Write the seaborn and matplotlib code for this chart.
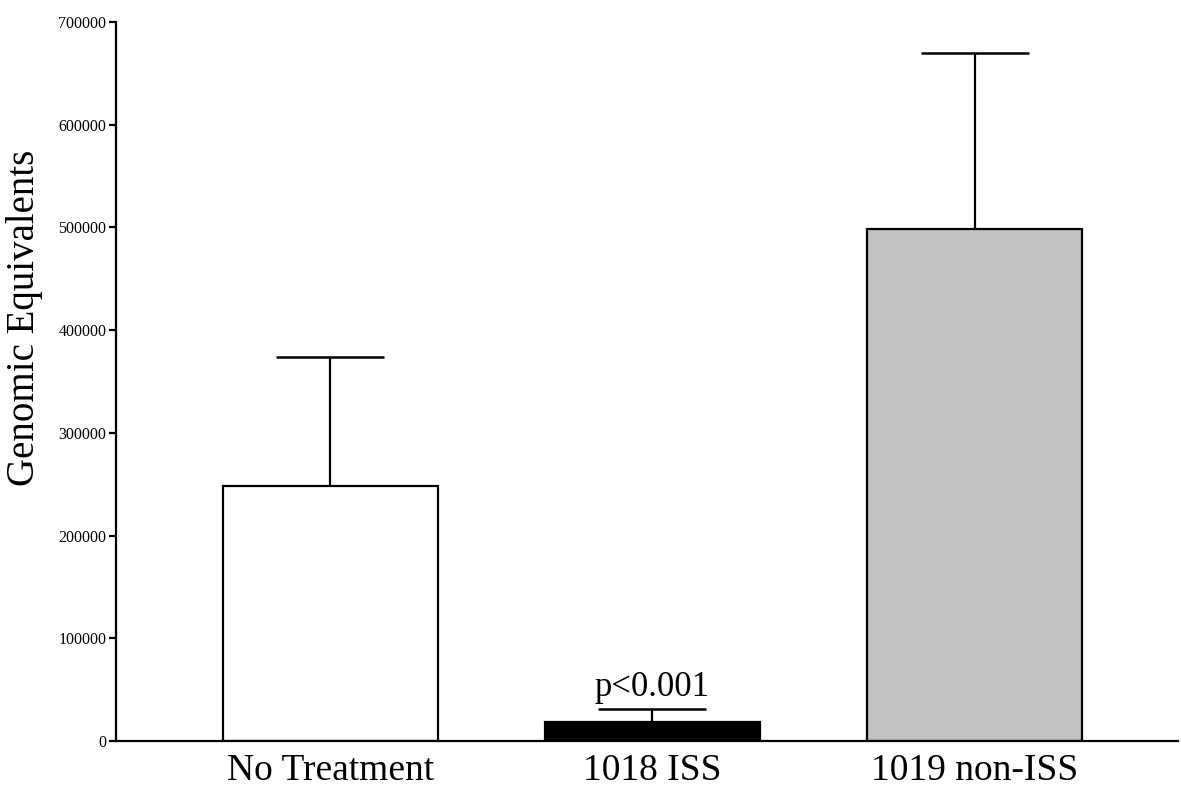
import matplotlib
matplotlib.use("Agg")
import matplotlib.pyplot as plt
import seaborn as sns
import numpy as np
import pandas as pd

categories = ["No Treatment", "1018 ISS", "1019 non-ISS"]
means = [248000, 18500, 499000]
errors = [126000, 12500, 171000]
colors = ["#ffffff", "#000000", "#c2c2c2"]
yticks = [0, 100000, 200000, 300000, 400000, 500000, 600000, 700000]
annotation = "p<0.001"

sns.set_theme(style="white")
plt.rcParams["font.family"] = ["Liberation Serif", "DejaVu Serif"]
plt.rcParams["text.color"] = "black"
plt.rcParams["axes.labelcolor"] = "black"

fig = plt.figure(figsize=(11.81, 7.88), dpi=100)
ax = fig.add_axes([0.0982, 0.0596, 0.8993, 0.9124])

df = pd.DataFrame({"cat": categories, "val": means})
sns.barplot(data=df, x="cat", y="val", hue="cat", palette=colors, legend=False,
            width=0.667, edgecolor="black", linewidth=1.6, ax=ax, zorder=2)

xs = np.arange(len(categories))
ax.errorbar(xs, means, yerr=[np.zeros(len(errors)), errors], fmt="none",
            ecolor="black", elinewidth=1.6, capsize=39, capthick=1.8, zorder=1)

ax.text(1, means[1] + errors[1] + 13000, annotation, ha="center", va="baseline",
        fontsize=25, color="black")

ax.set_xlim(-0.664, 2.63)
ax.set_ylim(0, 700000)
ax.set_yticks(yticks)
ax.set_yticklabels([str(t) for t in yticks], fontsize=11.5)
ax.set_xticks(xs)
ax.set_xticklabels(categories, fontsize=27)
ax.set_xlabel("")
ax.set_ylabel("Genomic Equivalents", fontsize=28, color="black")
ax.yaxis.label.set_va("center")
ax.yaxis.set_label_coords(-0.0857, 0.588)

for s in ["top", "right"]:
    ax.spines[s].set_visible(False)
for s in ["left", "bottom"]:
    ax.spines[s].set_color("black")
    ax.spines[s].set_linewidth(1.6)

ax.tick_params(axis="y", which="major", left=True, length=5, width=1.6, pad=2, colors="black")
ax.tick_params(axis="x", bottom=False, pad=3, colors="black")

fig.savefig("out.png", dpi=100, facecolor="white")
